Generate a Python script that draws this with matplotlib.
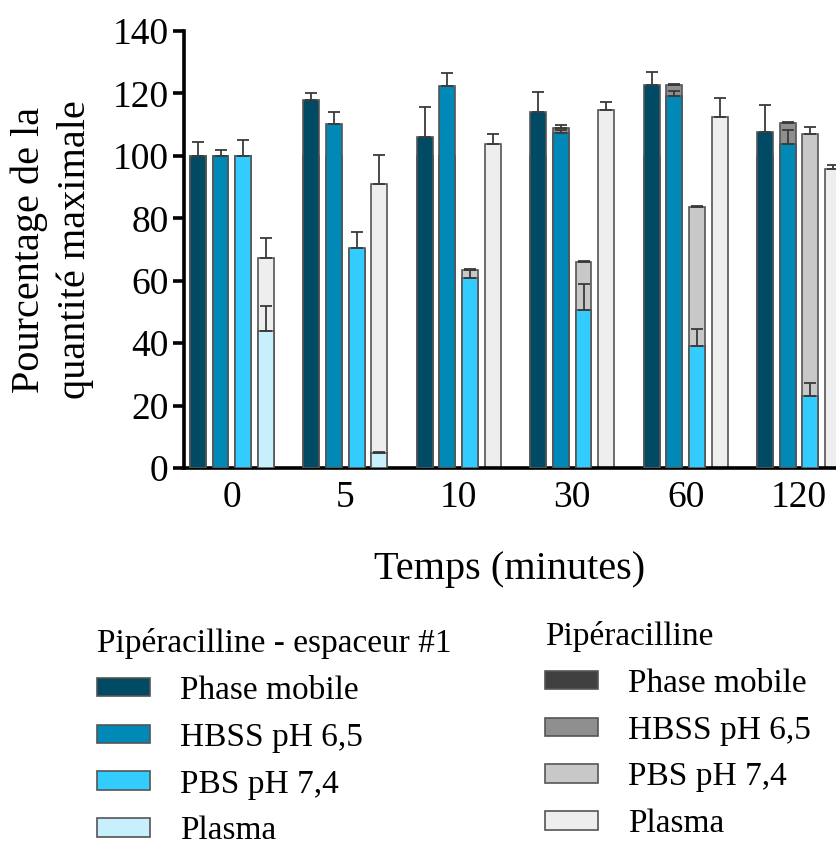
import matplotlib
matplotlib.use("Agg")
import matplotlib.pyplot as plt
import numpy as np

plt.rcParams['font.family'] = ['Liberation Serif', 'DejaVu Serif']

times = ["0", "5", "10", "30", "60", "120"]
media = ["Phase mobile", "HBSS pH 6,5", "PBS pH 7,4", "Plasma"]

# Pipéracilline - espaceur #1 (mean, upper SD)
spacer_pm = [100.0, 117.8, 106.1, 114.1, 122.6, 107.7]
spacer_pm_err = [4.3, 2.4, 9.7, 6.5, 4.4, 8.6]
spacer_hbss = [100.0, 110.1, 122.4, 107.3, 119.2, 103.9]
spacer_hbss_err = [1.8, 4.1, 4.0, 1.0, 1.6, 4.4]
spacer_pbs = [100.0, 70.4, 60.9, 50.5, 39.0, 23.0]
spacer_pbs_err = [5.0, 5.1, 2.5, 8.3, 5.6, 4.1]
spacer_plasma = [43.9, 4.7, 0.0, 0.0, 0.0, 0.0]
spacer_plasma_err = [8.0, 0.3, 0.0, 0.0, 0.0, 0.0]

# Pipéracilline (mean, upper SD)
pip_pm = [100.0, 100.0, 100.0, 100.0, 100.0, 100.0]
pip_pm_err = [0.0, 0.0, 0.0, 0.0, 0.0, 0.0]
pip_hbss = [100.0, 100.0, 100.0, 108.8, 122.7, 110.6]
pip_hbss_err = [0.0, 0.0, 0.0, 1.0, 0.3, 0.3]
pip_pbs = [100.0, 70.0, 63.5, 66.1, 83.5, 106.9]
pip_pbs_err = [0.0, 0.0, 0.3, 0.3, 0.3, 2.4]
pip_plasma = [67.2, 91.0, 103.9, 114.6, 112.6, 95.7]
pip_plasma_err = [6.5, 9.3, 3.0, 2.7, 5.8, 1.4]

spacer_colors = ["#004B63", "#0088B7", "#33CCFF", "#C7EFFC"]
pip_colors = ["#404040", "#8F8F8F", "#C8C8C8", "#EEEEEE"]

spacer_vals = [spacer_pm, spacer_hbss, spacer_pbs, spacer_plasma]
spacer_errs = [spacer_pm_err, spacer_hbss_err, spacer_pbs_err, spacer_plasma_err]
pip_vals = [pip_pm, pip_hbss, pip_pbs, pip_plasma]
pip_errs = [pip_pm_err, pip_hbss_err, pip_pbs_err, pip_plasma_err]

fig = plt.figure(figsize=(8.36, 8.48), dpi=100)
ax = fig.add_axes([0.220, 0.448, 0.780, 0.5155])

x = np.arange(len(times))
offsets = [-0.30, -0.10, 0.10, 0.30]
width = 0.14
edge = "#555555"
err_kw = dict(ecolor="#3a3a3a", elinewidth=1.3, capsize=4, capthick=1.3)

pip_handles = []
spacer_handles = []
for k in range(4):
    h = ax.bar(x + offsets[k], pip_vals[k], width, color=pip_colors[k],
               edgecolor=edge, linewidth=1.2, zorder=2,
               yerr=[np.zeros(len(times)), pip_errs[k]], error_kw=dict(err_kw, zorder=2))
    pip_handles.append(h)
for k in range(4):
    vals = np.array(spacer_vals[k], dtype=float)
    errs = np.array(spacer_errs[k], dtype=float)
    shown = vals > 0
    h = ax.bar((x + offsets[k])[shown], vals[shown], width, color=spacer_colors[k],
               edgecolor=edge, linewidth=1.2, zorder=3,
               yerr=[np.zeros(shown.sum()), errs[shown]], error_kw=dict(err_kw, zorder=4))
    spacer_handles.append(h)

ax.set_ylim(0, 140)
ax.set_yticks(np.arange(0, 141, 20))
ax.set_xlim(-0.423, 5.326)
ax.set_xticks(x)
ax.set_xticklabels(times)

for s in ["top", "right"]:
    ax.spines[s].set_visible(False)
ax.spines["left"].set_linewidth(2.6)
ax.spines["bottom"].set_linewidth(2.6)
ax.tick_params(axis="y", length=8, width=2.6, labelsize=27, pad=3)
ax.tick_params(axis="x", length=0, labelsize=27, pad=9)

ax.set_xlabel("Temps (minutes)", fontsize=29, labelpad=26)
ax.set_ylabel("Pourcentage de la\nquantité maximale", fontsize=29, labelpad=13,
              linespacing=1.3)

leg_kw = dict(frameon=False, fontsize=24, title_fontsize=24, alignment="left",
              handlelength=1.6, handleheight=0.48, handletextpad=0.9,
              labelspacing=0.49, borderpad=0, borderaxespad=0)
leg1 = fig.legend(spacer_handles, media, title="Pipéracilline - espaceur #1",
                  loc="upper left", bbox_to_anchor=(97 / 836, 1 - 628 / 848), **leg_kw)
leg2 = fig.legend(pip_handles, media, title="Pipéracilline",
                  loc="upper left", bbox_to_anchor=(545 / 836, 1 - 621 / 848), **leg_kw)
for leg in (leg1, leg2):
    for p in leg.get_patches():
        p.set_edgecolor(edge)
        p.set_linewidth(1.2)

fig.savefig("out.png", dpi=100)
